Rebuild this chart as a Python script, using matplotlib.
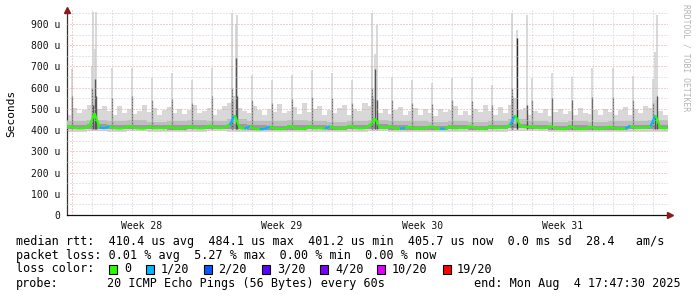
import numpy as np
import matplotlib.pyplot as plt
from matplotlib.patches import Rectangle

plt.rcParams['font.family'] = ['DejaVu Sans Mono']

# 30 day window, x in days from left edge, 6-hour steps (4 per day)
# median rtt per step in microseconds
median_rtt = [
    418, 410, 408, 409,  420, 480, 412, 409,  418, 409, 407, 410,  420, 410, 408, 407,
    416, 409, 410, 408,  419, 407, 409, 410,  417, 410, 408, 409,  422, 411, 409, 412,
    425, 470, 410, 406,  418, 405, 404, 406,  417, 407, 405, 408,  420, 409, 406, 407,
    418, 408, 410, 406,  419, 407, 409, 408,  421, 410, 408, 409,  424, 455, 412, 409,
    418, 408, 407, 410,  416, 406, 409, 408,  418, 409, 407, 406,  417, 408, 410, 409,
    419, 410, 407, 408,  416, 409, 411, 410,  425, 470, 418, 413,  418, 412, 409, 410,
    420, 410, 406, 405,  419, 408, 407, 406,  418, 406, 408, 409,  417, 407, 405, 408,
    420, 409, 412, 410,  418, 470, 410, 408,
]
# loss class per step (0 -> 0/20, 1 -> 1/20)
loss_idx = [
    0, 0, 0, 0,  0, 0, 0, 1,  1, 0, 0, 0,  0, 0, 0, 0,
    0, 0, 0, 0,  0, 0, 0, 0,  0, 0, 0, 0,  0, 0, 0, 0,
    0, 1, 0, 0,  1, 0, 0, 1,  1, 0, 0, 0,  0, 0, 0, 0,
    0, 0, 0, 0,  1, 0, 0, 0,  0, 0, 0, 0,  0, 0, 0, 0,
    0, 0, 0, 1,  0, 0, 0, 0,  0, 0, 0, 1,  0, 0, 0, 0,
    0, 0, 0, 0,  0, 0, 0, 0,  0, 1, 0, 0,  0, 0, 0, 0,
    0, 0, 0, 0,  0, 0, 0, 0,  0, 0, 0, 0,  0, 0, 0, 0,
    1, 0, 0, 0,  0, 1, 0, 0,
]
# top of the smoke (max ping) per step
smoke_max = [
    470, 505, 480, 495,  520, 560, 500, 515,  490, 470, 515, 480,  500, 475, 490, 520,
    485, 505, 470, 495,  510, 480, 500, 475,  495, 520, 480, 490,  505, 470, 495, 515,
    530, 560, 505, 490,  480, 515, 495, 470,  500, 485, 525, 480,  490, 510, 475, 530,
    485, 500, 515, 470,  495, 480, 505, 520,  470, 500, 490, 530,  515, 545, 480, 500,
    475, 495, 510, 470,  490, 505, 470, 500,  480, 465, 500, 485,  495, 515, 470, 490,
    470, 500, 485, 520,  490, 470, 510, 480,  520, 550, 495, 505,  470, 490, 480, 500,
    465, 485, 500, 475,  490, 470, 505, 480,  475, 495, 470, 500,  485, 470, 495, 510,
    470, 500, 480, 515,  505, 540, 490, 470,
]
# daily smoke percentiles
smoke_p75 = [445, 450, 442, 446, 440, 444, 447, 443, 452, 445, 441, 446, 444, 440, 445,
             450, 443, 441, 438, 442, 440, 445, 452, 444, 440, 442, 439, 441, 443, 448]
smoke_p60 = [424, 428, 423, 425, 422, 424, 425, 423, 428, 423, 421, 424, 423, 421, 424,
             428, 422, 421, 420, 422, 421, 423, 430, 424, 421, 422, 420, 421, 423, 426]
smoke_p25 = [404, 405, 403, 404, 403, 402, 404, 405, 404, 400, 401, 402, 403, 402, 403,
             405, 402, 401, 402, 403, 402, 404, 408, 405, 401, 402, 401, 400, 404, 403]
smoke_min = [393, 395, 392, 394, 392, 391, 393, 394, 393, 389, 390, 391, 392, 391, 392,
             394, 391, 390, 391, 392, 391, 393, 397, 394, 390, 391, 390, 389, 393, 392]

# daily spikes
spike_day = [0.23, 1.23, 2.23, 3.23, 4.23, 5.23, 6.23, 7.23, 8.23, 9.23,
             10.23, 11.23, 12.23, 13.23, 14.23, 15.23, 16.23, 17.23, 18.23, 19.23,
             20.23, 21.23, 22.23, 23.23, 24.23, 25.23, 26.23, 27.23, 28.23, 29.23]
spike_top = [690, 700, 693, 693, 646, 670, 637, 693, 700, 660, 637, 660, 684, 670, 637,
             700, 650, 637, 622, 646, 646, 613, 700, 646, 670, 650, 693, 693, 655, 640]
spike_core = [560, 600, 550, 560, 540, 545, 530, 560, 600, 540, 530, 545, 555, 550, 530,
              600, 540, 530, 525, 540, 535, 520, 600, 540, 550, 540, 555, 555, 540, 530]

# weekly events
event_day = [1.30, 1.38, 1.45, 8.24, 8.42, 8.49, 15.22, 15.38, 15.46,
             22.20, 22.45, 22.95, 29.35, 29.44]
event_top = [955, 780, 955, 950, 900, 943, 950, 760, 896, 950, 870, 943, 770, 943]
event_core = [520, 640, 560, 540, 740, 560, 560, 690, 540, 560, 835, 520, 470, 560]

loss_colors = ['#26ff00', '#00b8ff', '#0059ff', '#5e00ff', '#7e00ff', '#dd00ff', '#ff0000']
loss_labels = ['0', '1/20', '2/20', '3/20', '4/20', '10/20', '19/20']

week_labels = ['Week 28', 'Week 29', 'Week 30', 'Week 31']
week_start = 0.235

W, H = 697, 297
fig = plt.figure(figsize=(W / 100, H / 100), dpi=100)
ax = fig.add_axes([67 / W, 82 / H, 601 / W, 205 / H])
ymax = 966
ax.set_xlim(0, 30)
ax.set_ylim(0, ymax)

edges = np.arange(len(median_rtt) + 1) / 4
centres = edges[:-1] + 0.125
p75 = np.repeat(smoke_p75, 4)
p60 = np.repeat(smoke_p60, 4)
p25 = np.repeat(smoke_p25, 4)
pmin = np.repeat(smoke_min, 4)

# smoke
ax.stairs(smoke_max, edges, baseline=pmin, fill=True, color='#d8d8d8', lw=0, zorder=2)
ax.vlines(spike_day, 410, spike_top, color='#d0d0d0', lw=1.1, zorder=2)
ax.vlines(event_day, 410, event_top, color='#cecece', lw=1.1, zorder=2)
ax.stairs(p75, edges, baseline=p25, fill=True, color='#bdbdbd', lw=0, zorder=3)
ax.stairs(p60, edges, baseline=p25, fill=True, color='#9c9c9c', lw=0, zorder=3)
ax.vlines(spike_day, 405, spike_core, color='#6e6e6e', lw=0.9, zorder=3)
core_cols = ['#2a2a2a' if c > 800 else '#555555' for c in event_core]
ax.vlines(event_day, 405, event_core, color=core_cols, lw=1.0, zorder=3)

# grid
for v in range(50, ymax, 100):
    ax.axhline(v, color='#cccccc', lw=0.72, ls=(0, (1, 2)), zorder=4)
for v in range(100, ymax, 100):
    ax.axhline(v, color='#ee9a9a', lw=0.72, ls=(0, (1, 2)), zorder=4)
for d in np.arange(week_start, 30, 1.0):
    major = abs((d - week_start) % 7) < 1e-6
    ax.axvline(d, color='#ee9a9a' if major else '#cccccc', lw=0.72, ls=(0, (1, 2)), zorder=4)

# median line coloured by loss
xs = np.concatenate([[0], centres, [30]])
ys = [median_rtt[0]] + median_rtt + [median_rtt[-1]]
cs = [loss_idx[0]] + loss_idx + [loss_idx[-1]]
for i in range(1, len(xs)):
    ax.plot(xs[i - 1:i + 1], ys[i - 1:i + 1], color=loss_colors[cs[i]], lw=1.6,
            solid_capstyle='butt', zorder=5)

# axes
for s in ['top', 'right']:
    ax.spines[s].set_visible(False)
ax.spines['left'].set_color('#333333')
ax.spines['bottom'].set_color('#111111')
ax.spines['left'].set_linewidth(0.9)
ax.spines['bottom'].set_linewidth(0.9)
ax.plot([0], [ymax], marker='^', color='#8b1a1a', ms=4, clip_on=False, zorder=6)
ax.plot([30.1], [0], marker='>', color='#8b1a1a', ms=4, clip_on=False, zorder=6)

ax.set_yticks(range(0, 1000, 100))
ax.set_yticklabels(['0'] + ['%d u' % v for v in range(100, 1000, 100)])
ax.set_xticks([week_start + 3.5 + 7 * k for k in range(4)])
ax.set_xticklabels(week_labels)
ax.tick_params(axis='both', length=0, labelsize=7, colors='#111111')
ax.tick_params(axis='y', pad=5)
ax.tick_params(axis='x', pad=4)

fig.text(11 / W, 1 - 113 / H, 'Seconds', rotation=90, va='center', ha='center', fontsize=8)
fig.text(686 / W, 1 - 4 / H, 'RRDTOOL / TOBI OETIKER', rotation=270, va='top', ha='center',
         fontsize=5.8, color='#b4b4b4')

# legend text
fs = 8.5
fig.text(16 / W, 1 - 241 / H,
         'median rtt:  410.4 us avg  484.1 us max  401.2 us min  405.7 us now  0.0 ms sd  28.4   am/s',
         va='center', fontsize=fs)
fig.text(16 / W, 1 - 255 / H, 'packet loss: 0.01 % avg  5.27 % max  0.00 % min  0.00 % now',
         va='center', fontsize=fs)
fig.text(16 / W, 1 - 269 / H, 'loss color:', va='center', fontsize=fs)
box_x = [109, 146, 204, 262, 320, 377, 443]
lab_x = [124, 161, 218, 277, 335, 392, 457]
for bx, lx, c, lab in zip(box_x, lab_x, loss_colors, loss_labels):
    fig.add_artist(Rectangle((bx / W, 1 - 273.5 / H), 8 / W, 9 / H, transform=fig.transFigure,
                             facecolor=c, edgecolor='black', lw=0.8))
    fig.text(lx / W, 1 - 269 / H, lab, va='center', fontsize=fs)
fig.text(16 / W, 1 - 283 / H, 'probe:', va='center', fontsize=fs)
fig.text(107 / W, 1 - 283 / H, '20 ICMP Echo Pings (56 Bytes) every 60s', va='center', fontsize=fs)
fig.text(681 / W, 1 - 283 / H, 'end: Mon Aug  4 17:47:30 2025', va='center', ha='right', fontsize=fs)

fig.savefig('out.png', dpi=100)
